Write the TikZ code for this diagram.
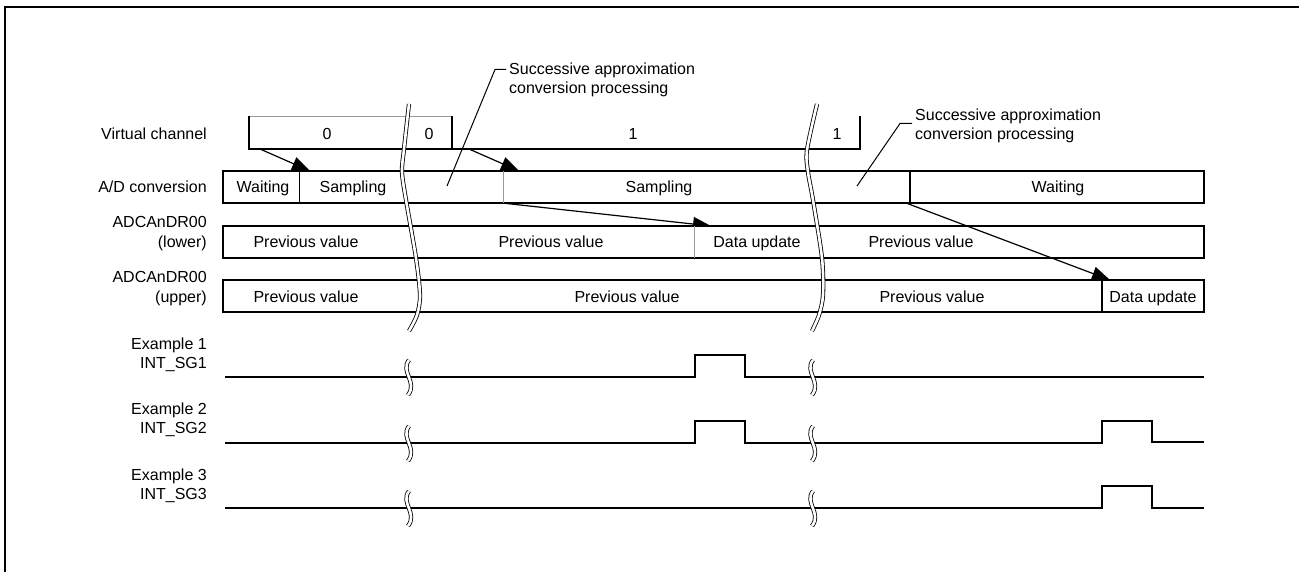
\documentclass[tikz,border=0pt]{standalone}
\usepackage{fontspec}
\setmainfont{Liberation Sans}
\usetikzlibrary{arrows.meta}
\begin{document}
\begin{tikzpicture}[x=1pt,y=-1pt,
  txt/.style={font=\fontsize{16}{19}\selectfont, inner sep=0pt, anchor=base},
  lbl/.style={txt, anchor=base east},
  ctxt/.style={txt, anchor=base west},
  box/.style={draw=black, line width=1.8pt, fill=white},
  bar/.style={draw=black, line width=1.8pt},
  gbar/.style={draw=black!40, line width=1pt},
  sig/.style={draw=black, line width=2.4pt, line join=miter},
  conn/.style={draw=black, line width=1.2pt, -{Triangle[length=18pt,width=14pt]}},
  lead/.style={draw=black, line width=1pt},
  brk/.style={draw=black, line width=0.8pt, double=white, double distance=2.6pt},
]
\useasboundingbox (0,0) rectangle (1299,572);
% frame
\draw[line width=2pt] (5,572) -- (5,7) -- (1299,7);

% arrow end points
\coordinate (a1s) at (260,149); \coordinate (a1e) at (310,171);
\coordinate (a2s) at (469,149); \coordinate (a2e) at (519,171);
\coordinate (a3s) at (502,203); \coordinate (a3e) at (711,226);
\coordinate (a4s) at (906,203); \coordinate (a4e) at (1110,280);

\draw[conn] (a1s) -- (a1e);
\draw[conn] (a2s) -- (a2e);
\draw[conn] (a3s) -- (a3e);

% Virtual channel row
\draw[gbar] (249,116.5) -- (452,116.5);
\draw[bar] (249,116.5) -- (249,149) -- (860,149) -- (860,116.5);
\draw[bar] (452,116.5) -- (452,149);

% A/D conversion row
\draw[box] (223,171) rectangle (1204,203);
\draw[bar] (299.5,171) -- (299.5,203);
\draw[gbar] (503,171) -- (503,203);
\draw[bar] (910,171) -- (910,203);

% lower row
\draw[box] (223,226) rectangle (1204,258);
\draw[gbar] (694.5,226) -- (694.5,258);

\draw[conn] (a4s) -- (a4e);

% upper row
\draw[box] (223,280) rectangle (1204,312);
\draw[bar] (1102,280) -- (1102,312);

% signals
\draw[sig] (225,377) -- (695,377) -- (695,355) -- (745,355) -- (745,377) -- (1204,377);
\draw[sig] (225,443) -- (695,443) -- (695,421) -- (745,421) -- (745,443) -- (1102,443) -- (1102,421) -- (1152,421) -- (1152,442) -- (1204,442);
\draw[sig] (225,508) -- (1102,508) -- (1102,486) -- (1152,486) -- (1152,508) -- (1204,508);

% break marks
\draw[brk] plot[smooth] coordinates {(409,104) (404,149) (402,172) (406,200) (416,258) (420,295) (417,315) (409,331)};
\draw[brk] plot[smooth] coordinates {(817,104) (807,150) (808,172) (813,200) (822,258) (823,295) (819,315) (812,331)};
\foreach \yy in {377,443,508}{
  \draw[brk] (409,\yy-17) .. controls (400,\yy-5) and (418,\yy+5) .. (408,\yy+18);
  \draw[brk] (813,\yy-17) .. controls (804,\yy-5) and (822,\yy+5) .. (812,\yy+18);
}

% callouts
\coordinate (c1p) at (447,186); \coordinate (c1k) at (495,69.5); \coordinate (c1e) at (506,69.5);
\draw[lead] (c1p) -- (c1k) -- (c1e);
\coordinate (c2p) at (857,186); \coordinate (c2k) at (900,123.5); \coordinate (c2e) at (912,123.5);
\draw[lead] (c2p) -- (c2k) -- (c2e);
\node[ctxt] (c1a) at (509,74.5) {Successive approximation};
\node[ctxt] (c1b) at (509,93.5) {conversion processing};
\node[ctxt] (c2a) at (915,120.5) {Successive approximation};
\node[ctxt] (c2b) at (915,140) {conversion processing};

% left labels
\node[lbl] (lvc) at (207,139.5) {Virtual channel};
\node[lbl] (lad) at (207,193) {A/D conversion};
\node[lbl] (llo1) at (207,228) {ADCAnDR00};
\node[lbl] (llo2) at (207,248) {(lower)};
\node[lbl] (lup1) at (207,282.5) {ADCAnDR00};
\node[lbl] (lup2) at (207,302.5) {(upper)};
\node[lbl] (le1) at (207,349) {Example 1};
\node[lbl] (ls1) at (207,368.5) {INT\_SG1};
\node[lbl] (le2) at (207,414) {Example 2};
\node[lbl] (ls2) at (207,433.5) {INT\_SG2};
\node[lbl] (le3) at (207,480) {Example 3};
\node[lbl] (ls3) at (207,499.5) {INT\_SG3};

% row texts
\node[txt] (vc0a) at (327,139.5) {0};
\node[txt] (vc0b) at (429,139.5) {0};
\node[txt] (vc1a) at (633,139.5) {1};
\node[txt] (vc1b) at (837,139.5) {1};

\node[txt] (adw1) at (263,193) {Waiting};
\node[txt] (ads1) at (353,193) {Sampling};
\node[txt] (ads2) at (659,193) {Sampling};
\node[txt] (adw2) at (1058,193) {Waiting};

\node[txt] (lo1) at (306,248) {Previous value};
\node[txt] (lo2) at (551,248) {Previous value};
\node[txt] (lo3) at (757,248) {Data update};
\node[txt] (lo4) at (921,248) {Previous value};

\node[txt] (up1) at (306,302) {Previous value};
\node[txt] (up2) at (627,302) {Previous value};
\node[txt] (up3) at (932,302) {Previous value};
\node[txt] (up4) at (1153,302) {Data update};
\end{tikzpicture}
\end{document}
